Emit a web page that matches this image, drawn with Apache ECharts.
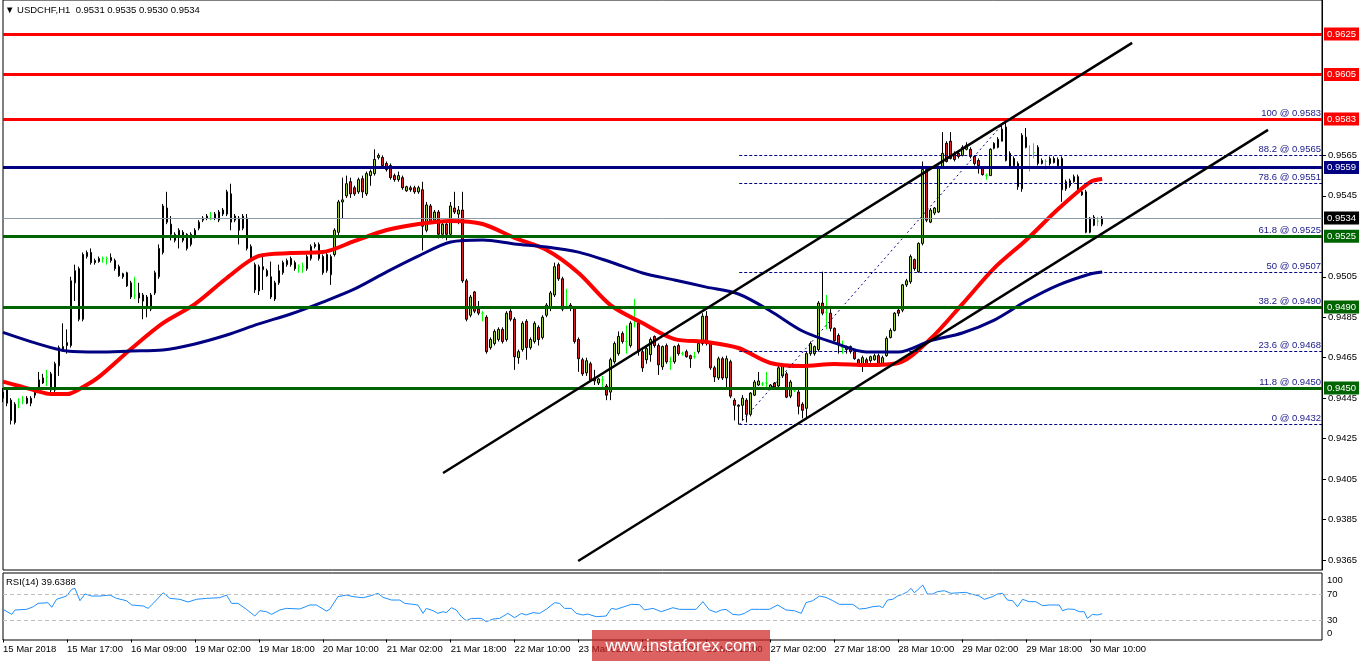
<!DOCTYPE html>
<html><head><meta charset="utf-8">
<script src="https://cdn.jsdelivr.net/npm/echarts@6/dist/echarts.min.js"></script>
<style>html,body{margin:0;padding:0;background:#fff}#c{width:1362px;height:661px}</style>
</head><body><div id="c"></div>
<script>
// ---------------- DATA ----------------
const symbolTitle = '\u25BC USDCHF,H1  0.9531 0.9535 0.9530 0.9534';
const rsiTitle = 'RSI(14) 39.6388';
const tickLabels = ['15 Mar 2018','15 Mar 17:00','16 Mar 09:00','19 Mar 02:00','19 Mar 18:00','20 Mar 10:00','21 Mar 02:00','21 Mar 18:00','22 Mar 10:00','23 Mar 02:00','23 Mar 18:00','26 Mar 10:00','27 Mar 02:00','27 Mar 18:00','28 Mar 10:00','29 Mar 02:00','29 Mar 18:00','30 Mar 10:00'];
const barsPerLabel = 16;
const totalSlots = 331;
// [open, close, low, high]
const candles = [
[0.9445,0.9448,0.9443,0.9450],[0.9449,0.94425,0.9441,0.9450],[0.9444,0.9434,0.9432,0.9445],[0.9433,0.9442,0.9432,0.9443],
[0.9443,0.9443,0.9440,0.9445],[0.9444,0.9444,0.9442,0.9446],[0.9445,0.94425,0.9442,0.9446],[0.94425,0.9445,0.9441,0.9446],
[0.94465,0.9448,0.9445,0.9449],[0.9450,0.9454,0.9449,0.9458],[0.94525,0.9455,0.9452,0.9457],[0.94555,0.94555,0.9451,0.9459],
[0.9457,0.9449,0.9448,0.9458],[0.9449,0.9462,0.9448,0.9463],[0.9461,0.9470,0.9456,0.9471],[0.9469,0.94705,0.9468,0.9482],
[0.9471,0.94725,0.9467,0.9479],[0.9471,0.9503,0.9470,0.9505],[0.9502,0.9508,0.9493,0.9511],[0.9509,0.9484,0.9483,0.9510],
[0.9484,0.9516,0.9483,0.9517],[0.9515,0.9517,0.9514,0.9518],[0.9517,0.9512,0.9511,0.9519],[0.9513,0.9512,0.9511,0.9514],
[0.95125,0.9514,0.9512,0.9515],[0.9514,0.9514,0.9512,0.9515],[0.9514,0.9514,0.9511,0.9515],[0.95145,0.9513,0.9512,0.95165],
[0.9513,0.9509,0.9508,0.9514],[0.9510,0.95055,0.9505,0.9511],[0.95065,0.9505,0.9504,0.9507],[0.9507,0.95005,0.9500,0.95075],
[0.9502,0.9495,0.9494,0.9503],[0.9496,0.9496,0.9494,0.9505],[0.9497,0.94945,0.9492,0.9502],[0.9493,0.9496,0.9484,0.9497],
[0.9495,0.9490,0.9485,0.9496],[0.9489,0.9496,0.9488,0.9497],[0.9497,0.9507,0.9496,0.9508],[0.9505,0.9519,0.9504,0.9521],
[0.9517,0.9540,0.9516,0.9541],[0.9539,0.9532,0.9531,0.9547],[0.9531,0.9526,0.9523,0.9535],[0.9523,0.9526,0.9522,0.9527],
[0.9525,0.9528,0.9519,0.9529],[0.9527,0.9523,0.9522,0.9528],[0.9526,0.9519,0.9518,0.95265],[0.9521,0.9526,0.9520,0.9527],
[0.9525,0.9528,0.9524,0.9529],[0.9529,0.9532,0.9528,0.9533],[0.9533,0.9534,0.9532,0.9535],[0.9534,0.9535,0.9533,0.9536],
[0.9535,0.9535,0.9533,0.9537],[0.9536,0.9534,0.9533,0.9537],[0.9533,0.9537,0.9532,0.9538],[0.9536,0.9538,0.9535,0.9539],
[0.9536,0.9547,0.9535,0.9548],[0.9546,0.9532,0.9528,0.9551],[0.9533,0.9535,0.9532,0.9536],[0.9534,0.9528,0.9521,0.9535],
[0.9529,0.9535,0.9528,0.9536],[0.9534,0.9519,0.9518,0.9536],[0.9520,0.9514,0.9513,0.9521],[0.9511,0.94985,0.9497,0.9512],
[0.9498,0.9510,0.9496,0.9511],[0.9510,0.95085,0.94985,0.95165],[0.9508,0.95055,0.9505,0.9509],[0.9505,0.9495,0.9494,0.95125],
[0.9494,0.9502,0.9493,0.9503],[0.9502,0.9508,0.9501,0.9511],[0.9507,0.9512,0.9506,0.9513],[0.9511,0.9513,0.9510,0.9514],
[0.9514,0.9511,0.9510,0.9515],[0.9512,0.9509,0.9508,0.9513],[0.9510,0.9510,0.9507,0.9511],[0.9510,0.9510,0.9507,0.9512],
[0.9509,0.9515,0.9508,0.9516],[0.9514,0.9520,0.9513,0.9521],[0.9520,0.9521,0.9519,0.9522],[0.9521,0.9514,0.9513,0.9522],
[0.9515,0.9507,0.9506,0.9516],[0.9508,0.9516,0.9507,0.9517],[0.9506,0.9515,0.9501,0.9516],[0.9516,0.9528,0.9515,0.9529],
[0.9527,0.9542,0.9525,0.9543],[0.9542,0.9543,0.9534,0.9554],[0.9545,0.9551,0.9544,0.9555],[0.9552,0.9546,0.9544,0.9554],
[0.9549,0.9546,0.9545,0.9550],[0.9547,0.9553,0.9546,0.9554],[0.95535,0.9547,0.9544,0.9555],[0.9546,0.9556,0.9545,0.9557],
[0.9555,0.9557,0.9550,0.9558],[0.9556,0.9563,0.9555,0.9568],[0.9564,0.9565,0.9563,0.9566],[0.9564,0.9560,0.9559,0.9565],
[0.9561,0.9558,0.9557,0.9562],[0.9560,0.9554,0.9553,0.9561],[0.9555,0.9553,0.9552,0.9556],[0.9553,0.9555,0.9552,0.9557],
[0.9554,0.9549,0.9548,0.9555],[0.95475,0.95495,0.9547,0.9550],[0.9549,0.9548,0.9547,0.9550],[0.9549,0.9547,0.9546,0.9550],
[0.9547,0.9549,0.9546,0.9550],[0.9548,0.9530,0.9518,0.9552],[0.9528,0.95405,0.9527,0.9542],[0.9540,0.9532,0.9531,0.9541],
[0.9533,0.9537,0.9532,0.9538],[0.9537,0.9526,0.9524,0.9538],[0.9526,0.9531,0.9524,0.9532],[0.9531,0.9526,0.9523,0.9532],
[0.9526,0.9540,0.9525,0.9542],[0.9539,0.9537,0.9536,0.9547],[0.9536,0.9538,0.9531,0.9540],[0.9538,0.9503,0.9502,0.9547],
[0.9503,0.9484,0.9483,0.9504],[0.9486,0.9495,0.9485,0.9496],[0.94975,0.9488,0.9487,0.9498],[0.9489,0.9487,0.9486,0.9493],
[0.9487,0.9487,0.9483,0.9488],[0.9485,0.9468,0.9467,0.9486],[0.9470,0.9474,0.9469,0.9475],[0.9472,0.9478,0.9471,0.9479],
[0.9474,0.9479,0.9473,0.9480],[0.9479,0.9473,0.9472,0.9480],[0.9474,0.9487,0.9473,0.9488],[0.9488,0.9484,0.9483,0.9489],
[0.9484,0.94655,0.9459,0.9485],[0.9465,0.9468,0.9462,0.9469],[0.9469,0.9482,0.9468,0.9483],[0.9483,0.9470,0.9464,0.9484],
[0.9470,0.9474,0.9469,0.9475],[0.9473,0.9482,0.9472,0.9483],[0.9480,0.9474,0.9471,0.9481],[0.9475,0.9485,0.9474,0.9486],
[0.9486,0.9491,0.9485,0.9492],[0.9490,0.9497,0.9488,0.9498],[0.9496,0.9510,0.9495,0.9512],[0.9511,0.9504,0.9503,0.9512],
[0.9504,0.9489,0.9488,0.9505],[0.9490,0.9490,0.9489,0.9499],[0.9491,0.94895,0.9488,0.9492],[0.94895,0.9473,0.9472,0.9490],
[0.9474,0.94645,0.9458,0.9475],[0.9464,0.9457,0.9456,0.9465],[0.94575,0.94635,0.9456,0.9465],[0.9462,0.9454,0.9453,0.9463],
[0.9455,0.94535,0.94515,0.9459],[0.94525,0.94545,0.94515,0.9455],[0.9454,0.9454,0.94505,0.9456],[0.9451,0.94465,0.9444,0.9452],
[0.9448,0.9464,0.9444,0.9465],[0.9463,0.9472,0.9462,0.9473],[0.9467,0.94755,0.9466,0.9478],[0.9477,0.9473,0.9472,0.9478],
[0.9473,0.9473,0.9467,0.9481],[0.9471,0.9482,0.9470,0.9483],[0.9484,0.9484,0.9480,0.9494],[0.9482,0.9468,0.9466,0.9483],
[0.9468,0.9460,0.9458,0.9470],[0.9464,0.94695,0.9462,0.94705],[0.94665,0.9474,0.9463,0.9475],[0.94755,0.9471,0.9470,0.9476],
[0.9471,0.94615,0.94565,0.9472],[0.94605,0.94705,0.9459,0.9471],[0.9471,0.9463,0.9462,0.9472],[0.9463,0.9463,0.9459,0.94655],
[0.9463,0.94705,0.9462,0.9471],[0.9471,0.9467,0.9466,0.9472],[0.9467,0.9467,0.9466,0.9468],[0.9468,0.94655,0.9465,0.9469],
[0.9466,0.94645,0.9460,0.94665],[0.94655,0.94655,0.94645,0.9468],[0.9468,0.9472,0.9467,0.9473],[0.9472,0.94855,0.9471,0.9487],
[0.94855,0.9472,0.9471,0.9488],[0.9472,0.9460,0.9459,0.9473],[0.9460,0.94555,0.9453,0.9461],[0.9455,0.94645,0.9454,0.94655],
[0.94645,0.9455,0.9454,0.94655],[0.9455,0.94645,0.94505,0.9466],[0.9463,0.9446,0.9445,0.9464],[0.9444,0.94415,0.9434,0.9445],
[0.9441,0.94415,0.9432,0.9442],[0.94415,0.9445,0.9434,0.94465],[0.9444,0.9437,0.9433,0.9445],[0.9437,0.94475,0.9436,0.9448],
[0.94465,0.9453,0.9446,0.9454],[0.94515,0.94535,0.9451,0.9458],[0.9452,0.9452,0.9451,0.9453],[0.94525,0.94525,0.94505,0.9458],
[0.9450,0.94515,0.9449,0.9452],[0.94525,0.94505,0.9450,0.9453],[0.9451,0.9460,0.9450,0.9461],[0.9456,0.9461,0.9455,0.9462],
[0.9457,0.94455,0.9445,0.9458],[0.9446,0.9453,0.9445,0.9454],[0.9449,0.9449,0.9448,0.9450],[0.9448,0.9441,0.9437,0.9449],
[0.9442,0.9439,0.9435,0.9443],[0.9440,0.9467,0.9435,0.9468],[0.9467,0.9472,0.9466,0.9473],[0.9467,0.94705,0.9466,0.9471],
[0.9469,0.9492,0.9468,0.9493],[0.9492,0.9487,0.9486,0.95075],[0.94875,0.94875,0.9479,0.9496],[0.9487,0.94795,0.9478,0.9489],
[0.94795,0.94735,0.9473,0.9480],[0.9476,0.94715,0.9467,0.9477],[0.9470,0.9470,0.9467,0.94735],[0.9469,0.94705,0.9467,0.9471],
[0.94705,0.9468,0.9467,0.9471],[0.9468,0.94645,0.9464,0.9469],[0.9464,0.9462,0.9461,0.94645],[0.9462,0.9465,0.9458,0.9466],
[0.9464,0.9462,0.9461,0.9465],[0.94635,0.94655,0.94625,0.9466],[0.9464,0.9466,0.94635,0.9467],[0.9466,0.9462,0.9461,0.9467],
[0.9462,0.9465,0.94615,0.9466],[0.9466,0.94745,0.94655,0.94755],[0.9475,0.94785,0.94745,0.94795],[0.94785,0.9487,0.9478,0.94875],
[0.94885,0.9487,0.94855,0.94895],[0.94885,0.9501,0.94875,0.95015],[0.9501,0.9503,0.9500,0.9504],[0.95025,0.9515,0.95015,0.9516],
[0.95135,0.9509,0.9508,0.9514],[0.95075,0.95215,0.9507,0.9522],[0.95215,0.9558,0.95205,0.9562],[0.9558,0.9533,0.9532,0.9559],
[0.9532,0.9538,0.95315,0.9539],[0.95365,0.9539,0.95355,0.95395],[0.9537,0.9559,0.95365,0.9560],[0.9559,0.9566,0.95585,0.95765],
[0.9571,0.9562,0.95615,0.9572],[0.9572,0.95635,0.9563,0.95765],[0.9566,0.9563,0.9562,0.9567],[0.9566,0.95645,0.95635,0.9567],
[0.9565,0.9569,0.95645,0.9570],[0.9568,0.9570,0.95675,0.95715],[0.9568,0.95645,0.95635,0.9569],[0.95645,0.9561,0.9560,0.9565],
[0.95625,0.9560,0.9556,0.95635],[0.95585,0.95555,0.9555,0.9559],[0.9555,0.9555,0.9553,0.9556],[0.9555,0.9568,0.9555,0.95685],
[0.95685,0.9571,0.9568,0.95715],[0.9569,0.9573,0.95685,0.9574],[0.9572,0.9578,0.9572,0.9581],[0.9579,0.95625,0.9562,0.9583],
[0.9566,0.9559,0.95585,0.9567],[0.95635,0.9560,0.9559,0.95645],[0.9561,0.95495,0.9548,0.9562],[0.95485,0.9575,0.9547,0.9576],
[0.9574,0.9569,0.95685,0.95785],[0.9565,0.9565,0.9557,0.9570],[0.95665,0.95665,0.95635,0.9571],[0.9569,0.9561,0.9560,0.9570],
[0.9561,0.95625,0.95605,0.95635],[0.9562,0.9562,0.9558,0.9563],[0.95635,0.9561,0.9560,0.95645],[0.95635,0.95615,0.9561,0.95645],
[0.9563,0.9560,0.9559,0.9564],[0.95635,0.9548,0.9542,0.95645],[0.95485,0.9552,0.95475,0.9553],[0.9550,0.95525,0.9549,0.95535],
[0.9552,0.95545,0.95515,0.95555],[0.95545,0.9547,0.95465,0.95555],[0.9547,0.95455,0.9545,0.9548],[0.9547,0.9527,0.95265,0.9548],
[0.9527,0.9534,0.95265,0.95345],[0.95345,0.95305,0.9530,0.95355],[0.95325,0.95325,0.9530,0.95345],[0.9531,0.9534,0.9530,0.9535]
];
// moving averages read at bar indices
const maIdx   = [0,4,8,12,16,20,24,32,40,48,56,64,72,80,88,96,104,112,120,128,136,144,152,160,168,176,184,192,200,208,216,224,232,240,248,256,264,272,275];
const maRed   = [0.94532,0.9451,0.94488,0.9447,0.9447,0.94505,0.94555,0.94693,0.94821,0.94915,0.95044,0.95153,0.95167,0.95172,0.95227,0.95281,0.95311,0.95326,0.95311,0.95242,0.95182,0.95069,0.9491,0.94821,0.94742,0.94728,0.94698,0.94624,0.94609,0.94619,0.94614,0.94624,0.94742,0.94915,0.95093,0.95232,0.95385,0.95518,0.95533];
const maNavyIdx = [0,8,16,24,32,40,48,56,64,72,80,88,96,104,112,120,128,136,144,152,160,168,176,184,192,200,208,216,224,232,240,248,256,264,272,275];
const maNavy  = [0.94775,0.94723,0.94683,0.94678,0.94683,0.94688,0.94718,0.94762,0.94817,0.94866,0.94925,0.9499,0.95074,0.95153,0.95222,0.95232,0.95212,0.95197,0.95172,0.95123,0.95069,0.95034,0.94999,0.94965,0.94881,0.94782,0.94723,0.94678,0.94678,0.94733,0.94772,0.94836,0.9493,0.95009,0.95064,0.95074];
// RSI(14) read at bar positions
const rsiIdx = [0,2.2,3,5.9,7.6,8.8,11.3,12.2,13.4,15.9,17.2,18,19.25,20.5,22.2,24.25,26.75,28.4,30.9,32.2,35.1,36.3,37.6,40.1,41.75,44.25,46.3,48.4,50.9,54.25,55.9,57.2,58.8,60.9,63,64.25,65.9,67.2,69.25,70.9,74.25,76.75,78.4,80.9,81.75,83.8,85.9,87.6,90.1,91.75,93.8,95.1,97.2,99.25,100.5,102.6,103.8,105.1,105.9,107.6,108.8,110.1,110.9,112.2,113.4,114.7,115.9,117.2,119.7,120.9,122.6,124.25,126.3,128,129.7,130.9,132.6,134.25,135.9,138,139.25,140.5,142.2,143.4,145.1,146.3,148.4,150.9,152.2,153.4,157.2,159.25,160.5,162.6,164.7,167.6,169.25,173.4,175.1,176.75,178.4,179.7,180.9,182.6,184.25,185.5,187.2,189.25,191.75,193.8,195.9,198,199.7,200.9,202.6,204.25,205.9,207.6,209.25,212.6,214.25,215.9,217.6,219.25,220.1,221.3,222.6,223.8,225.1,226.3,227.2,228,228.8,230.1,231.3,232.6,233.8,235.5,237.2,239.25,240.9,242.2,244.25,245.5,247.6,248.8,250.1,251.3,252.6,253.8,255.1,256.75,258.4,260.1,261.75,264.25,265.1,266.3,268,269.25,270.5,271.3,272.6,273.8,275];
const rsiVal = [46.4,38.7,45.4,46.4,50.5,55.6,56.6,49.5,61.8,66.9,77.2,78.7,59.7,70,66.9,66.9,68.4,63.3,59.7,53.1,51.5,47.9,55.6,72,63.3,61.8,57.7,61.8,63.3,64.3,68.4,55.6,55.6,46.4,36.1,44.3,42.8,38.7,45.4,47.9,46.9,53.1,53.1,43.8,46.4,65.9,68.4,65.9,64.3,66.9,71,64.8,60.7,60.7,55.6,54.1,53.1,40.2,47.9,44.3,40.2,42.8,41.3,48.9,45.4,35.1,29,32.5,32.5,27.4,31.5,32.5,40.2,33.6,40.2,37.7,41.3,40.2,46.4,56.6,55.6,47.9,47.9,40.2,37.7,39.2,35.1,36.1,47.9,46.4,54.1,53.6,45.4,47.9,42.8,48.9,46.4,46.4,58.2,45.4,41.8,45.4,46.4,38.7,37.7,40.2,46.4,46.4,46.4,53.1,45.4,44.3,40.2,56.6,59.7,66.9,64.8,59.7,54.1,54.1,46.9,47.9,50.5,51.5,48.9,60.7,61.8,66.9,69.5,73.6,78.7,72,76.1,83.8,70,70,73.6,75.1,71,72,72.5,70,66.9,61.8,65.9,70,71,60.7,59.7,50.5,61.8,58.2,58.2,52,53.1,53.1,44.3,46.9,46.4,42.8,42.8,32.5,38.7,37.7,39.64];
const rsiLevels = [30, 70];
const rsiTicks = [0, 30, 70, 100];
const priceTicks = [0.9365,0.9385,0.9405,0.9425,0.9445,0.9465,0.9485,0.9505,0.9545,0.9565];
const redLevels = [0.9625, 0.9605, 0.9583];
const navyLevels = [0.9559];
const greenLevels = [0.9525, 0.9490, 0.9450];
const lastPrice = 0.9534;
const fibPct   = ['100','88.2','78.6','61.8','50','38.2','23.6','11.8','0'];
const fibPrice = [0.9583,0.9565,0.9551,0.9525,0.9507,0.9490,0.9468,0.9450,0.9432];
const fibAnchorLow  = [184.2, 0.9432];
const fibAnchorHigh = [251.2, 0.9583];
const channelUpper = [[110.1, 0.94080], [282.5, 0.96206]];
const channelLower = [[143.9, 0.93645], [316.5, 0.95776]];
const watermark = 'www.instaforex.com';

// ---------------- CHART ----------------
const Y_MIN = 0.936006, Y_MAX = 0.964181;
const FONT = 'Liberation Sans';
const cats = Array.from({length: totalSlots}, (_, i) => String(i));
const isLabelIdx = i => i % barsPerLabel === 0 && (i / barsPerLabel) < tickLabels.length;
const labelAt = i => isLabelIdx(i) ? tickLabels[i / barsPerLabel] : '';

const boxLine = (v, color, width, boxColor) => [
  {coord: [0, v],
   lineStyle: {color: color, width: width, type: 'solid'},
   label: {show: true, position: 'end', distance: 2, formatter: v.toFixed(4), color: '#fff',
           backgroundColor: boxColor || color, padding: [2, 3, 1, 3], fontSize: 9.5, fontFamily: FONT}},
  {coord: [totalSlots - 1, v]}
];

const fibLines = fibPrice.map((p, k) => [
  {coord: [fibAnchorLow[0], p],
   lineStyle: {color: '#000080', width: 1, type: [3, 2]},
   label: {show: true, position: 'insideEndTop', distance: 1, formatter: fibPct[k] + ' @ ' + p.toFixed(4),
           color: '#20208c', fontSize: 9.5, fontFamily: FONT}},
  {coord: [totalSlots - 1, p]}
]);

const chart = echarts.init(document.getElementById('c'));
chart.setOption({
  animation: false,
  backgroundColor: '#ffffff',
  textStyle: {fontFamily: FONT},
  title: [
    {text: symbolTitle, left: 5, top: 5, padding: 0,
     textStyle: {fontSize: 9.5, fontWeight: 'normal', color: '#000', fontFamily: FONT}},
    {text: rsiTitle, left: 6, top: 577, padding: 0,
     textStyle: {fontSize: 9.5, fontWeight: 'normal', color: '#000', fontFamily: FONT}}
  ],
  grid: [
    {left: 3, right: 40, top: 0, height: 570, show: true, borderColor: '#000', borderWidth: 1},
    {left: 3, right: 40, top: 573, height: 67, show: true, borderColor: '#000', borderWidth: 1}
  ],
  xAxis: [
    {type: 'category', gridIndex: 0, data: cats, boundaryGap: false,
     axisLine: {show: false}, axisTick: {show: false}, axisLabel: {show: false}, splitLine: {show: false}},
    {type: 'value', gridIndex: 0, min: 0, max: totalSlots - 1, show: false},
    {type: 'category', gridIndex: 1, data: cats, boundaryGap: false,
     axisLine: {show: false},
     axisTick: {show: true, interval: (i) => isLabelIdx(i), length: 3, lineStyle: {color: '#000'}},
     axisLabel: {show: true, interval: (i) => isLabelIdx(i), formatter: (v) => labelAt(Number(v)),
                 align: 'left', margin: 4, fontSize: 9.5, color: '#000', fontFamily: FONT},
     splitLine: {show: false}},
    {type: 'value', gridIndex: 1, min: 0, max: totalSlots - 1, show: false}
  ],
  yAxis: [
    {type: 'value', gridIndex: 0, position: 'right', min: Y_MIN, max: Y_MAX,
     splitLine: {show: false},
     axisLine: {show: true, onZero: false, lineStyle: {color: '#000', width: 1}},
     axisTick: {show: true, inside: false, customValues: priceTicks, length: 4, lineStyle: {color: '#000'}},
     axisLabel: {show: true, customValues: priceTicks, formatter: (v) => v.toFixed(4),
                 margin: 6, fontSize: 9.5, color: '#000', fontFamily: FONT}},
    {type: 'value', gridIndex: 1, position: 'right', min: -0.77, max: 102.31,
     splitLine: {show: false}, axisLine: {show: false},
     axisTick: {show: false},
     axisLabel: {show: true, customValues: rsiTicks, margin: 5, fontSize: 9.5, color: '#000', fontFamily: FONT,
                 formatter: (v) => v === 100 ? '{t|100}' : (v === 0 ? '{b|0}' : '{m|' + v + '}'),
                 rich: {t: {padding: [12, 0, 0, 0], fontSize: 9.5}, b: {padding: [0, 0, 12, 0], fontSize: 9.5}, m: {fontSize: 9.5}}}}
  ],
  series: [
    {type: 'candlestick', name: 'USDCHF', xAxisIndex: 0, yAxisIndex: 0, data: candles, barWidth: 2, z: 2,
     itemStyle: {color: '#9acd32', color0: '#dc1e1e', borderColor: '#000', borderColor0: '#000',
                 borderColorDoji: '#00ff00', borderWidth: 1}},
    {type: 'line', name: 'MA fast', xAxisIndex: 1, yAxisIndex: 0, z: 3,
     data: maIdx.map((x, k) => [x, maRed[k]]), showSymbol: false, smooth: 0.3,
     lineStyle: {color: '#ff0000', width: 4}},
    {type: 'line', name: 'MA slow', xAxisIndex: 1, yAxisIndex: 0, z: 3,
     data: maNavyIdx.map((x, k) => [x, maNavy[k]]), showSymbol: false, smooth: 0.3,
     lineStyle: {color: '#000080', width: 3}},
    {type: 'line', name: 'fib', xAxisIndex: 1, yAxisIndex: 0, z: 4, data: [],
     markLine: {symbol: ['none', 'none'], silent: true, animation: false, z: 4, data: fibLines}},
    {type: 'line', name: 'fibTrend', xAxisIndex: 1, yAxisIndex: 0, z: 4,
     data: [fibAnchorLow, fibAnchorHigh], showSymbol: false,
     lineStyle: {color: '#000080', width: 1, type: [2, 3]}},
    {type: 'line', name: 'levels', xAxisIndex: 1, yAxisIndex: 0, z: 5, data: [],
     markLine: {symbol: ['none', 'none'], silent: true, animation: false, z: 5,
       data: [].concat(
         [boxLine(lastPrice, '#8c9aa6', 1, '#000')],
         redLevels.map(v => boxLine(v, '#ff0000', 3)),
         navyLevels.map(v => boxLine(v, '#000080', 3)),
         greenLevels.map(v => boxLine(v, '#006400', 3))
       )}},
    {type: 'line', name: 'channelUpper', xAxisIndex: 1, yAxisIndex: 0, z: 6,
     data: channelUpper, showSymbol: false, lineStyle: {color: '#000', width: 2.5}},
    {type: 'line', name: 'channelLower', xAxisIndex: 1, yAxisIndex: 0, z: 6,
     data: channelLower, showSymbol: false, lineStyle: {color: '#000', width: 2.5}},
    {type: 'line', name: 'RSI', xAxisIndex: 3, yAxisIndex: 1, z: 3,
     data: rsiIdx.map((x, k) => [x, rsiVal[k]]), showSymbol: false,
     lineStyle: {color: '#1e90ff', width: 1},
     markLine: {symbol: ['none', 'none'], silent: true, animation: false, label: {show: false},
       data: rsiLevels.map(v => ({yAxis: v, lineStyle: {color: '#c0c0c0', width: 1, type: [4, 3]}}))}}
  ],
  graphic: [
    {type: 'rect', x: 592, y: 630, shape: {width: 178, height: 31}, style: {fill: 'rgba(205,30,30,0.7)'}, z: 100},
    {type: 'text', x: 681, y: 646, z: 101,
     style: {text: watermark, fill: '#fff', fontSize: 17, fontFamily: FONT, align: 'center', verticalAlign: 'middle'}}
  ]
});
</script>
</body></html>
